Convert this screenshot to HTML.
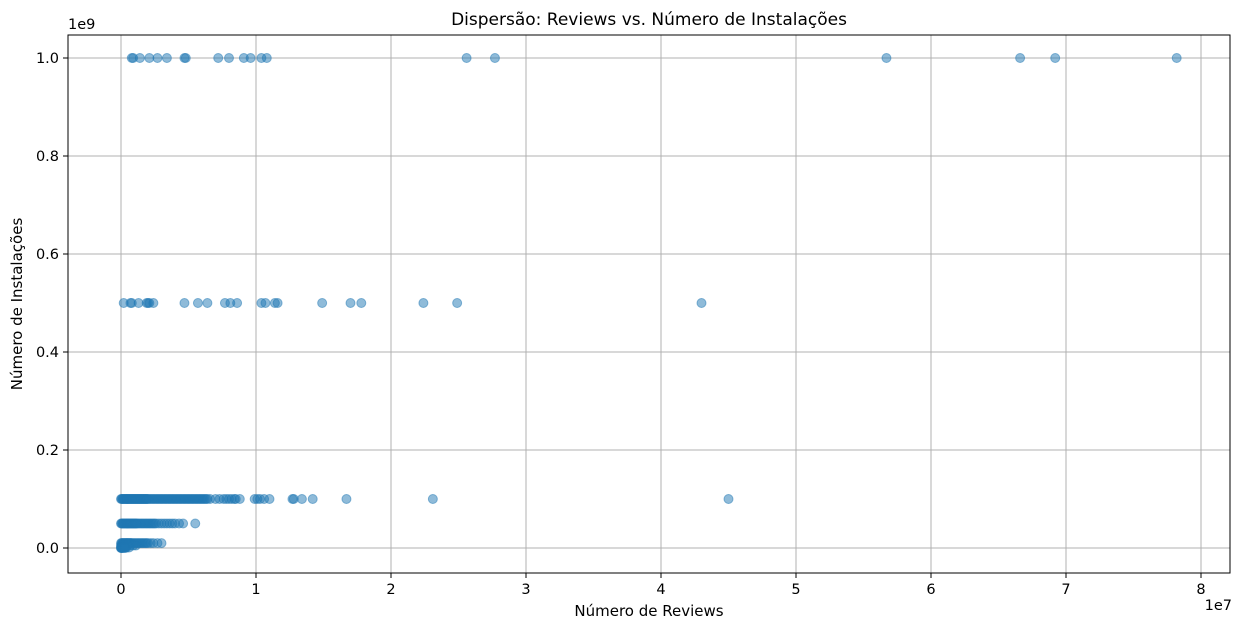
<!DOCTYPE html>
<html><head><meta charset="utf-8"><style>
body{margin:0;background:#fff;font-family:"Liberation Sans","DejaVu Sans",sans-serif}
svg text{font-family:"DejaVu Sans","Liberation Sans",sans-serif;fill:#000}
</style></head><body>
<svg id="chart" width="1240" height="628"></svg>
<script>
// reviews in millions, installs in units
const row1e9 = [0.8,0.9,1.4,2.1,2.7,3.4,4.7,4.8,7.2,8.0,9.1,9.6,10.4,10.8,25.6,27.7,56.7,66.6,69.2,78.2];
const row5e8 = [0.2,0.7,0.8,1.3,1.9,2.0,2.1,2.4,4.7,5.7,6.4,7.7,8.1,8.6,10.4,10.7,11.4,11.6,14.9,17.0,17.8,22.4,24.9,43.0];
const row1e8 = [0,0.05,0.1,0.15,0.2,0.25,0.3,0.35,0.4,0.45,0.5,0.55,0.6,0.65,0.7,0.75,0.8,0.85,0.9,0.95,1.0,1.05,1.1,1.15,1.2,1.25,1.3,1.35,1.4,1.45,1.5,1.55,1.6,1.65,1.7,1.75,1.8,1.85,1.9,1.95,2.0,2.1,2.2,2.3,2.4,2.5,2.6,2.7,2.8,2.9,3.0,3.1,3.2,3.3,3.4,3.5,3.6,3.7,3.8,3.9,4.0,4.1,4.2,4.3,4.4,4.5,4.6,4.7,4.8,4.9,5.0,5.1,5.2,5.3,5.4,5.5,5.6,5.7,5.8,5.9,6.0,6.1,6.2,6.3,6.4,6.6,7.0,7.3,7.6,7.8,8.0,8.2,8.4,8.5,8.8,9.9,10.1,10.3,10.6,11.0,12.7,12.8,13.4,14.2,16.7,23.1,45.0];
const row5e7 = [0,0.05,0.1,0.15,0.2,0.25,0.3,0.35,0.4,0.45,0.5,0.55,0.6,0.65,0.7,0.75,0.8,0.85,0.9,0.95,1.0,1.05,1.1,1.15,1.2,1.3,1.4,1.5,1.6,1.7,1.8,1.9,2.0,2.1,2.2,2.3,2.4,2.5,2.6,2.8,3.0,3.2,3.4,3.6,3.8,4.0,4.3,4.6,5.5];
const row1e7 = [0,0.05,0.1,0.15,0.2,0.25,0.3,0.35,0.4,0.45,0.5,0.55,0.6,0.65,0.7,0.75,0.8,0.9,1.0,1.1,1.2,1.3,1.4,1.5,1.6,1.7,1.8,1.9,2.0,2.2,2.4,2.7,3.0];
const row5e6 = [0,0.05,0.1,0.15,0.2,0.3,0.4,0.5,0.7,0.9,1.1];
const row1e6 = [0,0.05,0.1,0.15,0.2,0.3,0.4,0.6];
const row0 = [0,0.02,0.05,0.1,0.2,0.3];
const installsRows = [1e9,5e8,1e8,5e7,1e7,5e6,1e6,0];
const reviewRows = [row1e9,row5e8,row1e8,row5e7,row1e7,row5e6,row1e6,row0];
const xTicks = [0,1,2,3,4,5,6,7,8];
const yTicks = [0,0.2,0.4,0.6,0.8,1.0];

const L=68,R=1230,T=35,B=573;
const xs = v => 121 + v*135;          // v in 1e7 units
const ys = v => 548 - v*490;          // v in 1e9 units
const svg=document.getElementById('chart');
const NS='http://www.w3.org/2000/svg';
function mk(t,a,p){const e=document.createElementNS(NS,t);for(const k in a)e.setAttribute(k,a[k]);(p||svg).appendChild(e);return e;}
const g=mk('g',{});


xTicks.forEach(t=>{
  mk('line',{x1:xs(t),x2:xs(t),y1:T,y2:B,stroke:'#b0b0b0','stroke-width':1},g);
  mk('line',{x1:xs(t),x2:xs(t),y1:B,y2:B+5,stroke:'#000','stroke-width':1});
  const tx=mk('text',{x:xs(t),y:B+21,'text-anchor':'middle','font-size':14.5});
  tx.textContent=t;
  
  
});
yTicks.forEach(t=>{
  mk('line',{x1:L,x2:R,y1:ys(t),y2:ys(t),stroke:'#b0b0b0','stroke-width':1},g);
  mk('line',{x1:L-5,x2:L,y1:ys(t),y2:ys(t),stroke:'#000','stroke-width':1});
  const tx=mk('text',{x:L-9,y:ys(t)+5,'text-anchor':'end','font-size':14.5});
  tx.textContent=t.toFixed(1);
  
  
});
const pts=mk('g',{});


reviewRows.forEach((row,i)=>{
  row.forEach(r=>{
    const c=mk('circle',{cx:xs(r/10),cy:ys(installsRows[i]/1e9),r:4.5,fill:'#1f77b4','fill-opacity':0.5,stroke:'#1f77b4','stroke-opacity':0.5,'stroke-width':1},pts);
    
    
  });
});
const fr=mk('rect',{x:L,y:T,width:R-L,height:B-T,fill:'none',stroke:'#000','stroke-width':1});


function txt(s,a,name){const e=mk('text',a);e.textContent=s;return e;}
txt('Dispersão: Reviews vs. Número de Instalações',{x:649,y:25,'text-anchor':'middle','font-size':17},'chart-title');
txt('Número de Reviews',{x:649,y:616,'text-anchor':'middle','font-size':15},'x-axis-title');
txt('Número de Instalações',{x:22,y:304,'text-anchor':'middle','font-size':15,transform:'rotate(-90 22 304)'},'y-axis-title');
txt('1e9',{x:68,y:29,'font-size':14.5},'y-axis-offset');
txt('1e7',{x:1232,y:610,'text-anchor':'end','font-size':14.5},'x-axis-offset');
</script>
</body></html>
